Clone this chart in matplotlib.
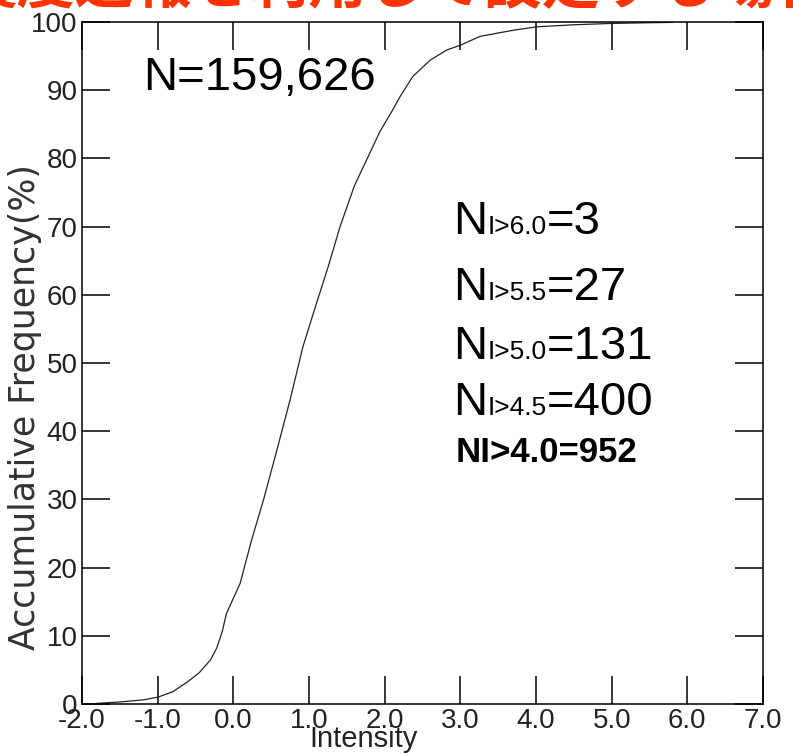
import matplotlib
matplotlib.use("Agg")
import matplotlib.pyplot as plt
from matplotlib.offsetbox import TextArea, HPacker, AnnotationBbox

plt.rcParams["font.family"] = ["Liberation Sans", "DejaVu Sans"]

# cumulative distribution
intensity = [-1.8, -1.5, -1.2, -1.0, -0.8, -0.6, -0.45, -0.3, -0.22, -0.15,
             -0.09, 0.0, 0.09, 0.24, 0.40, 0.57, 0.75, 0.92, 1.10, 1.25,
             1.41, 1.6, 1.77, 1.94, 2.1, 2.20, 2.37, 2.60, 2.82, 3.00,
             3.26, 3.70, 4.01, 4.5, 5.0, 5.5, 5.8]
cum_freq = [0.1, 0.3, 0.6, 1.0, 1.8, 3.3, 4.6, 6.5, 8.2, 10.5,
            13.3, 15.5, 17.7, 24, 30, 37, 44.6, 52.4, 58.8, 64,
            70, 76, 80, 84, 87, 89, 92, 94.4, 95.9, 96.6,
            97.9, 98.8, 99.3, 99.6, 99.8, 99.9, 99.95]

xticks = [-2.0, -1.0, 0.0, 1.0, 2.0, 3.0, 4.0, 5.0, 6.0, 7.0]
yticks = [0, 10, 20, 30, 40, 50, 60, 70, 80, 90, 100]

total_label = "N=159,626"
thresholds = ["I>6.0", "I>5.5", "I>5.0", "I>4.5"]
counts = ["3", "27", "131", "400"]
bold_line = "NI>4.0=952"
title = "震度速報を利用して設定する場合"

fig = plt.figure(figsize=(7.93, 7.55), dpi=100)
ax = fig.add_axes([0.1034, 0.0675, 0.8588, 0.9033])

ax.plot(intensity, cum_freq, color="#222222", lw=0.9)

ax.set_xlim(-2, 7)
ax.set_ylim(0, 100)
ax.set_xticks(xticks)
ax.set_xticklabels([f"{t:.1f}" for t in xticks])
ax.set_yticks(yticks)
ax.tick_params(direction="in", length=20, width=1.1, top=True, right=True,
               labelsize=20, labelcolor="#222222", pad=3)
for s in ax.spines.values():
    s.set_linewidth(1.1)

fig.text(25 / 793, 1 - 407 / 755, "Accumulative Frequency(%)", rotation=90,
         ha="center", va="center", fontsize=25, color="#333333",
         family="DejaVu Sans")
fig.text(364 / 793, 1 - 725 / 755, "Intensity", ha="center", va="top",
         fontsize=21, color="#222222")

ax.text(0.0896, 0.918, total_label, transform=ax.transAxes, fontsize=34,
        ha="left", va="center")

ys = [0.707, 0.610, 0.523, 0.441]
for th, c, y in zip(thresholds, counts, ys):
    parts = [TextArea("N", textprops=dict(fontsize=34)),
             TextArea(th, textprops=dict(fontsize=19)),
             TextArea("=" + c, textprops=dict(fontsize=34))]
    box = HPacker(children=parts, align="baseline", pad=0, sep=0)
    ab = AnnotationBbox(box, (0.545, y), xycoords="axes fraction",
                        box_alignment=(0, 0.5), frameon=False)
    ax.add_artist(ab)

ax.text(0.549, 0.369, bold_line, transform=ax.transAxes, fontsize=25,
        fontweight="bold", ha="left", va="center")

fig.text(0.5, 1 + 14 / 755, title, ha="center", va="center", fontsize=42,
         fontweight="bold", color="#ff3300",
         family=["Noto Sans CJK JP", "DejaVu Sans"])

fig.savefig("out.png", dpi=100)
